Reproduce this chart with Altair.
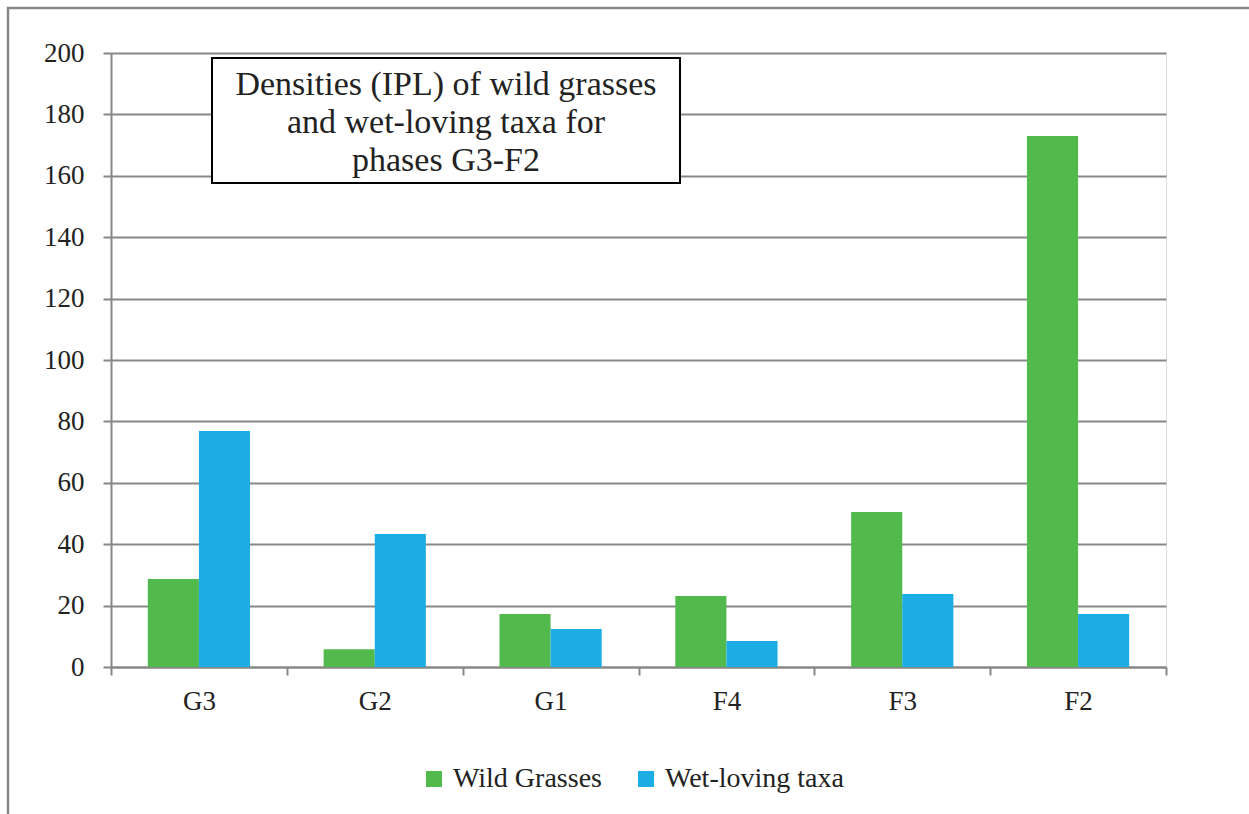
import altair as alt
import pandas as pd

phases = ["G3", "G2", "G1", "F4", "F3", "F2"]
series_names = ["Wild Grasses", "Wet-loving taxa"]
wild_grasses = [28.7, 5.8, 17.3, 23.1, 50.5, 173.0]
wet_loving = [76.9, 43.3, 12.4, 8.5, 23.8, 17.3]
y_ticks = [0, 20, 40, 60, 80, 100, 120, 140, 160, 180, 200]
title_text = "Densities (IPL) of wild grasses\nand wet-loving taxa for\nphases G3-F2"
colors = ["#52B94C", "#1BADE3"]

rows = []
for i, p in enumerate(phases):
    rows.append({"phase": p, "series": series_names[0], "value": wild_grasses[i]})
    rows.append({"phase": p, "series": series_names[1], "value": wet_loving[i]})
df = pd.DataFrame(rows)

FONT = "Liberation Serif"
GRID = "#878787"

frame = alt.Chart(alt.Data(values=[{}])).mark_rect(
    fill="transparent", stroke=GRID, strokeWidth=2.5
).encode(
    x=alt.value(-103), x2=alt.value(1200), y=alt.value(-45), y2=alt.value(800)
)

bars = alt.Chart(df).mark_bar().encode(
    x=alt.X("phase:N", sort=phases, title=None,
            scale=alt.Scale(paddingInner=0, paddingOuter=0),
            axis=alt.Axis(tickBand="extent", labelAngle=0, labelFont=FONT,
                          labelFontSize=27, labelColor="#222", labelPadding=13,
                          tickSize=8, tickColor=GRID, tickWidth=2,
                          domainColor=GRID, domainWidth=2, grid=False)),
    xOffset=alt.XOffset("series:N", sort=series_names,
                        scale=alt.Scale(paddingOuter=0.72, paddingInner=0)),
    y=alt.Y("value:Q", title=None,
            scale=alt.Scale(domain=[0, 200], nice=False),
            axis=alt.Axis(values=y_ticks, labelFont=FONT, labelFontSize=27,
                          labelColor="#222", labelPadding=19, tickSize=8,
                          tickColor=GRID, tickWidth=2, domainColor=GRID,
                          domainWidth=2, gridColor=GRID, gridWidth=2)),
    color=alt.Color("series:N", sort=series_names,
                    scale=alt.Scale(domain=series_names, range=colors),
                    legend=alt.Legend(title=None, orient="none", legendX=309,
                                      legendY=712, direction="horizontal",
                                      symbolType="square", symbolSize=256,
                                      symbolStrokeWidth=0, labelFont=FONT,
                                      labelFontSize=28, labelColor="#222",
                                      labelOffset=5, columnPadding=30,
                                      labelLimit=400)),
)

title_box = alt.Chart(alt.Data(values=[{}])).mark_rect(
    fill="white", stroke="black", strokeWidth=2
).encode(
    x=alt.value(101), x2=alt.value(569), y=alt.value(5), y2=alt.value(130)
)

title = alt.Chart(alt.Data(values=[{"t": title_text}])).mark_text(
    font=FONT, fontSize=34, color="#222", align="center", baseline="alphabetic",
    lineBreak="\n", lineHeight=38
).encode(
    x=alt.value(335), y=alt.value(42), text="t:N"
)

chart = alt.layer(frame, bars, title_box, title).properties(
    width=1055, height=614,
    autosize=alt.AutoSizeParams(type="none"),
    padding={"left": 111, "top": 53, "right": 83, "bottom": 147},
).configure_view(stroke=None).configure(background="white")

chart.save("out.html", embed_options={"renderer": "svg", "actions": False})
